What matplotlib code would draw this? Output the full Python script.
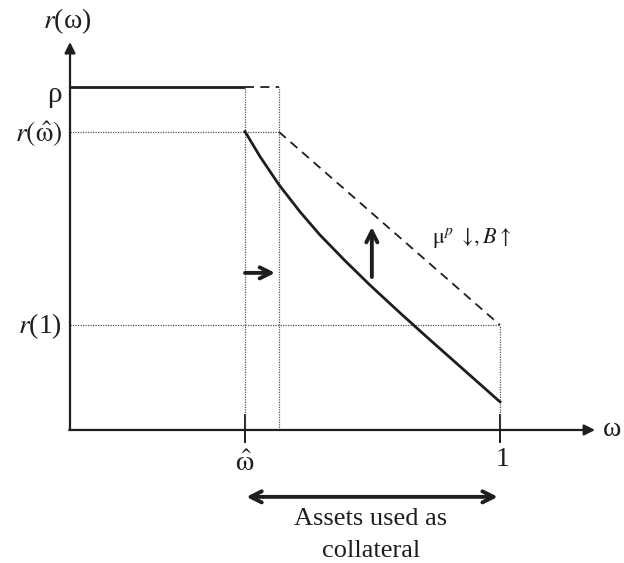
import matplotlib
matplotlib.use("Agg")
import matplotlib.pyplot as plt

plt.rcParams['font.family'] = ['Liberation Serif', 'DejaVu Serif']
plt.rcParams['mathtext.fontset'] = 'stix'

# schematic values (omega on x, r(omega) on y, rho = 1)
omega_hat = 0.407
omega_shift = 0.486
rho = 1.0
r_hat = 0.869
r_one = 0.306

# r(omega) curve
curve_w = [0.407, 0.442, 0.486, 0.535, 0.581, 0.640, 0.698, 0.767, 0.837, 0.919, 1.0]
curve_r = [0.870, 0.797, 0.715, 0.636, 0.569, 0.493, 0.422, 0.342, 0.263, 0.172, 0.082]

# shifted curve (dashed)
shift_w = [omega_shift, 1.0]
shift_r = [r_hat, r_one]

ink = '#1e1e1e'
grey = '#555555'

fig = plt.figure(figsize=(6.24, 5.63), dpi=100)
ax = fig.add_axes([0, 0, 1, 1])
ax.set_xlim(-0.1628, 1.2884)
ax.set_ylim(-0.3878, 1.2536)
ax.axis('off')

# axes with arrows
ax.annotate('', xy=(0, 1.131), xytext=(0, 0),
            arrowprops=dict(arrowstyle='-|>', lw=1.6, color=ink, mutation_scale=16,
                            shrinkA=0, shrinkB=0))
ax.annotate('', xy=(1.221, 0), xytext=(-0.002, 0),
            arrowprops=dict(arrowstyle='-|>', lw=1.6, color=ink, mutation_scale=16,
                            shrinkA=0, shrinkB=0))

# ticks
for xt in [omega_hat, 1.0]:
    ax.plot([xt, xt], [-0.035, 0.044], color=ink, lw=1.4)

# dotted guides
dot = dict(color=grey, lw=0.9, ls=(0, (1, 1)))
ax.plot([0, omega_shift], [r_hat, r_hat], **dot)
ax.plot([0, 1.0], [r_one, r_one], **dot)
ax.plot([omega_hat, omega_hat], [0, rho], **dot)
ax.plot([omega_shift, omega_shift], [0, rho], **dot)
ax.plot([1.0, 1.0], [0, r_one], **dot)

# rho line and its dashed extension
ax.plot([0, omega_hat], [rho, rho], color=ink, lw=2.0, solid_capstyle='butt')
ax.plot([omega_hat, omega_shift], [rho, rho], color=ink, lw=1.3, ls=(0, (5, 3.5)))

# curves
ax.plot(curve_w, curve_r, color=ink, lw=2.0, solid_joinstyle='round')
ax.plot(shift_w, shift_r, color=ink, lw=1.3, ls=(0, (5, 3.5)))

# shift arrows
arrow_kw = dict(lw=2.8, color=ink, mutation_scale=20, shrinkA=0, shrinkB=0)
ax.annotate('', xy=(0.477, 0.458), xytext=(omega_hat, 0.458),
            arrowprops=dict(arrowstyle='->', **arrow_kw))
ax.annotate('', xy=(0.702, 0.592), xytext=(0.702, 0.446),
            arrowprops=dict(arrowstyle='->', **arrow_kw))
ax.annotate('', xy=(0.995, -0.195), xytext=(0.410, -0.195),
            arrowprops=dict(arrowstyle='<->', **arrow_kw))

fs = 20
ax.text(-0.007, 1.193, r'$r$(ω)', fontsize=fs, ha='center', va='center', color=ink)
ax.text(-0.019, 0.978, 'ρ', fontsize=21, ha='right', va='center', color=ink)
ax.text(-0.019, r_hat - 0.005, r'$r(\hat{\mathrm{\omega}})$', fontsize=fs, ha='right',
        va='center', color=ink)
ax.text(-0.019, r_one - 0.003, r'$r$(1)', fontsize=fs, ha='right', va='center', color=ink)
ax.text(omega_hat, -0.1, r'$\hat{\mathrm{\omega}}$', fontsize=21, ha='center',
        va='center', color=ink)
ax.text(1.005, -0.085, '1', fontsize=fs, ha='center', va='center', color=ink)
ax.text(1.240, 0.0, 'ω', fontsize=fs, ha='left', va='center', color=ink)
ax.text(0.842, 0.56, r'$\mathrm{\mu}^{p}\ \downarrow\!,B\uparrow$', fontsize=16,
        ha='left', va='center', color=ink)
ax.text(0.70, -0.306, 'Assets used as\ncollateral', fontsize=19, ha='center',
        va='center', color=ink, linespacing=1.6)

fig.savefig('out.png', dpi=100)
